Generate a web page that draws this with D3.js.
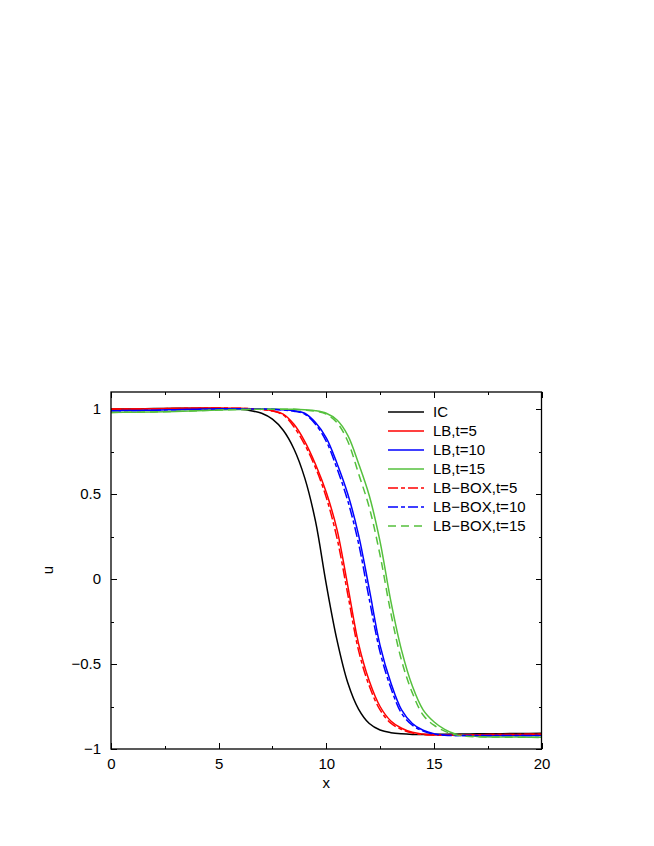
<!DOCTYPE html>
<html lang="en">
<head>
<meta charset="utf-8">
<title>u(x) profiles</title>
<style>
body { margin: 0; background: #fff; }
svg { display: block; }
.axis path { display: none; }
.axis line { stroke: #000; stroke-width: 1; shape-rendering: crispEdges; }
.axis text, .legend text, .label {
  font-family: "Liberation Sans", Arial, sans-serif;
  font-size: 15px;
  fill: #000;
}
</style>
</head>
<body>
<svg width="654" height="846"></svg>
<script src="https://cdn.jsdelivr.net/npm/d3@7"></script>
<script>

// x grid shared by every curve
var xs = [0, 1, 2, 3, 4, 5, 6, 6.5, 7, 7.5, 8, 8.5, 9, 9.5, 10, 10.5, 11, 11.5, 12, 12.5,
          13, 13.5, 14, 14.5, 15, 15.5, 16, 16.5, 17, 18, 19, 20];

// u values, one per x above
var icU = [1.0, 1.0, 1.003, 1.005, 1.004, 1.003, 0.998, 0.99, 0.975, 0.94, 0.875, 0.765, 0.595, 0.34, -0.03, -0.36,
           -0.61, -0.765, -0.85, -0.888, -0.904, -0.911, -0.914, -0.914, -0.914, -0.913, -0.912, -0.912, -0.911, -0.91, -0.909, -0.908];
var lb5U = [1.0, 1.0, 1.001, 1.003, 1.005, 1.006, 1.004, 1.002, 0.998, 0.99, 0.97, 0.91, 0.81, 0.675, 0.51, 0.29,
            -0.04, -0.38, -0.60, -0.75, -0.835, -0.878, -0.902, -0.912, -0.917, -0.918, -0.918, -0.917, -0.916, -0.915, -0.914, -0.913];
var lb10U = [0.99, 0.991, 0.993, 0.996, 0.999, 1.001, 1.001, 1.0, 1.0, 0.999, 0.995, 0.99, 0.975, 0.92, 0.83, 0.68,
             0.50, 0.26, -0.06, -0.39, -0.61, -0.77, -0.85, -0.89, -0.91, -0.918, -0.92, -0.921, -0.921, -0.92, -0.92, -0.92];
var lb15U = [0.98, 0.981, 0.983, 0.986, 0.99, 0.994, 0.997, 0.998, 0.999, 0.999, 0.999, 0.998, 0.995, 0.99, 0.975, 0.935,
             0.845, 0.68, 0.49, 0.22, -0.13, -0.42, -0.63, -0.77, -0.84, -0.885, -0.912, -0.922, -0.926, -0.929, -0.93, -0.931];
var box5U = [1.0, 1.0, 1.001, 1.003, 1.005, 1.006, 1.004, 1.002, 0.997, 0.988, 0.965, 0.895, 0.79, 0.655, 0.48, 0.24,
             -0.09, -0.42, -0.63, -0.77, -0.848, -0.885, -0.906, -0.915, -0.918, -0.919, -0.918, -0.917, -0.916, -0.915, -0.914, -0.913];
var box10U = [0.99, 0.991, 0.993, 0.996, 0.999, 1.001, 1.001, 1.0, 1.0, 0.998, 0.994, 0.987, 0.97, 0.91, 0.81, 0.65,
              0.46, 0.21, -0.12, -0.43, -0.64, -0.79, -0.86, -0.895, -0.913, -0.919, -0.921, -0.921, -0.921, -0.92, -0.92, -0.92];
var box15U = [0.98, 0.981, 0.983, 0.986, 0.99, 0.994, 0.997, 0.998, 0.999, 0.999, 0.999, 0.998, 0.994, 0.987, 0.97, 0.92,
              0.81, 0.62, 0.42, 0.14, -0.20, -0.48, -0.67, -0.80, -0.86, -0.895, -0.917, -0.925, -0.928, -0.93, -0.931, -0.932];

var names = ["IC", "LB,t=5", "LB,t=10", "LB,t=15", "LB\u2212BOX,t=5", "LB\u2212BOX,t=10", "LB\u2212BOX,t=15"];
var values = [icU, lb5U, lb10U, lb15U, box5U, box10U, box15U];
var colours = ["#000000", "#ff0000", "#0000ff", "#55c03d", "#ff0000", "#0000ff", "#55c03d"];
var dashes = [null, null, null, null, "10,3,4,3", "10,3,4,3", "8,5"];

var xMajor = [0, 5, 10, 15, 20];
var xMinor = [2.5, 7.5, 12.5, 17.5];
var yMajor = [-1, -0.5, 0, 0.5, 1];
var yMinor = [-0.75, -0.25, 0.25, 0.75];

var svg = d3.select("svg"),
	margin = {top: 392, right: 112.5, bottom: 97, left: 111};

var width = 654 - margin.left - margin.right,
	height = 846 - margin.top - margin.bottom;

var x = d3.scaleLinear().domain([0, 20]).range([0, width]);
var y = d3.scaleLinear().domain([-1, 1.1]).range([height, 0]);

var fmt = function(d) { return String(d).replace("-", "\u2212"); };

var g = svg.append("g")
	.attr("transform", "translate(" + margin.left + "," + margin.top + ")");

// ticks, inward on all four sides
g.append("g").attr("class", "axis")
	.attr("transform", "translate(0," + height + ")")
	.call(d3.axisBottom(x).tickValues(xMajor).tickSize(-6).tickPadding(9).tickFormat(fmt));
g.append("g").attr("class", "axis")
	.attr("transform", "translate(0," + height + ")")
	.call(d3.axisBottom(x).tickValues(xMinor).tickSize(-3).tickFormat(""));
g.append("g").attr("class", "axis")
	.call(d3.axisTop(x).tickValues(xMajor).tickSize(-6).tickFormat(""));
g.append("g").attr("class", "axis")
	.call(d3.axisTop(x).tickValues(xMinor).tickSize(-3).tickFormat(""));

g.append("g").attr("class", "axis")
	.call(d3.axisLeft(y).tickValues(yMajor).tickSize(-6).tickPadding(10).tickFormat(fmt));
g.append("g").attr("class", "axis")
	.call(d3.axisLeft(y).tickValues(yMinor).tickSize(-3).tickFormat(""));
g.append("g").attr("class", "axis")
	.attr("transform", "translate(" + width + ",0)")
	.call(d3.axisRight(y).tickValues(yMajor).tickSize(-6).tickFormat(""));
g.append("g").attr("class", "axis")
	.attr("transform", "translate(" + width + ",0)")
	.call(d3.axisRight(y).tickValues(yMinor).tickSize(-3).tickFormat(""));

// curves
var line = d3.line()
	.x(function(d) { return x(d[0]); })
	.y(function(d) { return y(d[1]); })
	.curve(d3.curveCatmullRom.alpha(0.5));

var series = names.map(function(n, i) {
	return {name: n, colour: colours[i], dash: dashes[i],
		points: xs.map(function(v, j) { return [v, values[i][j]]; })};
});

g.selectAll(".curve")
	.data(series)
	.enter().append("path")
	.attr("class", "curve")
	.attr("d", function(d) { return line(d.points); })
	.attr("fill", "none")
	.attr("stroke", function(d) { return d.colour; })
	.attr("stroke-width", 1.5)
	.attr("stroke-dasharray", function(d) { return d.dash; });

// frame
g.append("rect")
	.attr("width", width)
	.attr("height", height)
	.attr("fill", "none")
	.attr("stroke", "#000")
	.attr("stroke-width", 1.3);

// legend
var legend = g.append("g").attr("class", "legend")
	.attr("transform", "translate(" + (388 - margin.left) + "," + (412 - margin.top) + ")");

var key = legend.selectAll("g")
	.data(series)
	.enter().append("g")
	.attr("transform", function(d, i) { return "translate(0," + (i * 19) + ")"; });

key.append("line")
	.attr("x1", 0).attr("x2", 36)
	.attr("stroke", function(d) { return d.colour; })
	.attr("stroke-width", 1.5)
	.attr("stroke-dasharray", function(d) { return d.dash; });

key.append("text")
	.attr("x", 45)
	.attr("dy", "0.35em")
	.text(function(d) { return d.name; });

// axis labels
svg.append("text")
	.attr("class", "label")
	.attr("x", margin.left + width / 2)
	.attr("y", 788)
	.attr("text-anchor", "middle")
	.text("x");

svg.append("text")
	.attr("class", "label")
	.attr("transform", "translate(53,570) rotate(-90)")
	.attr("text-anchor", "middle")
	.text("u");

</script>
</body>
</html>
